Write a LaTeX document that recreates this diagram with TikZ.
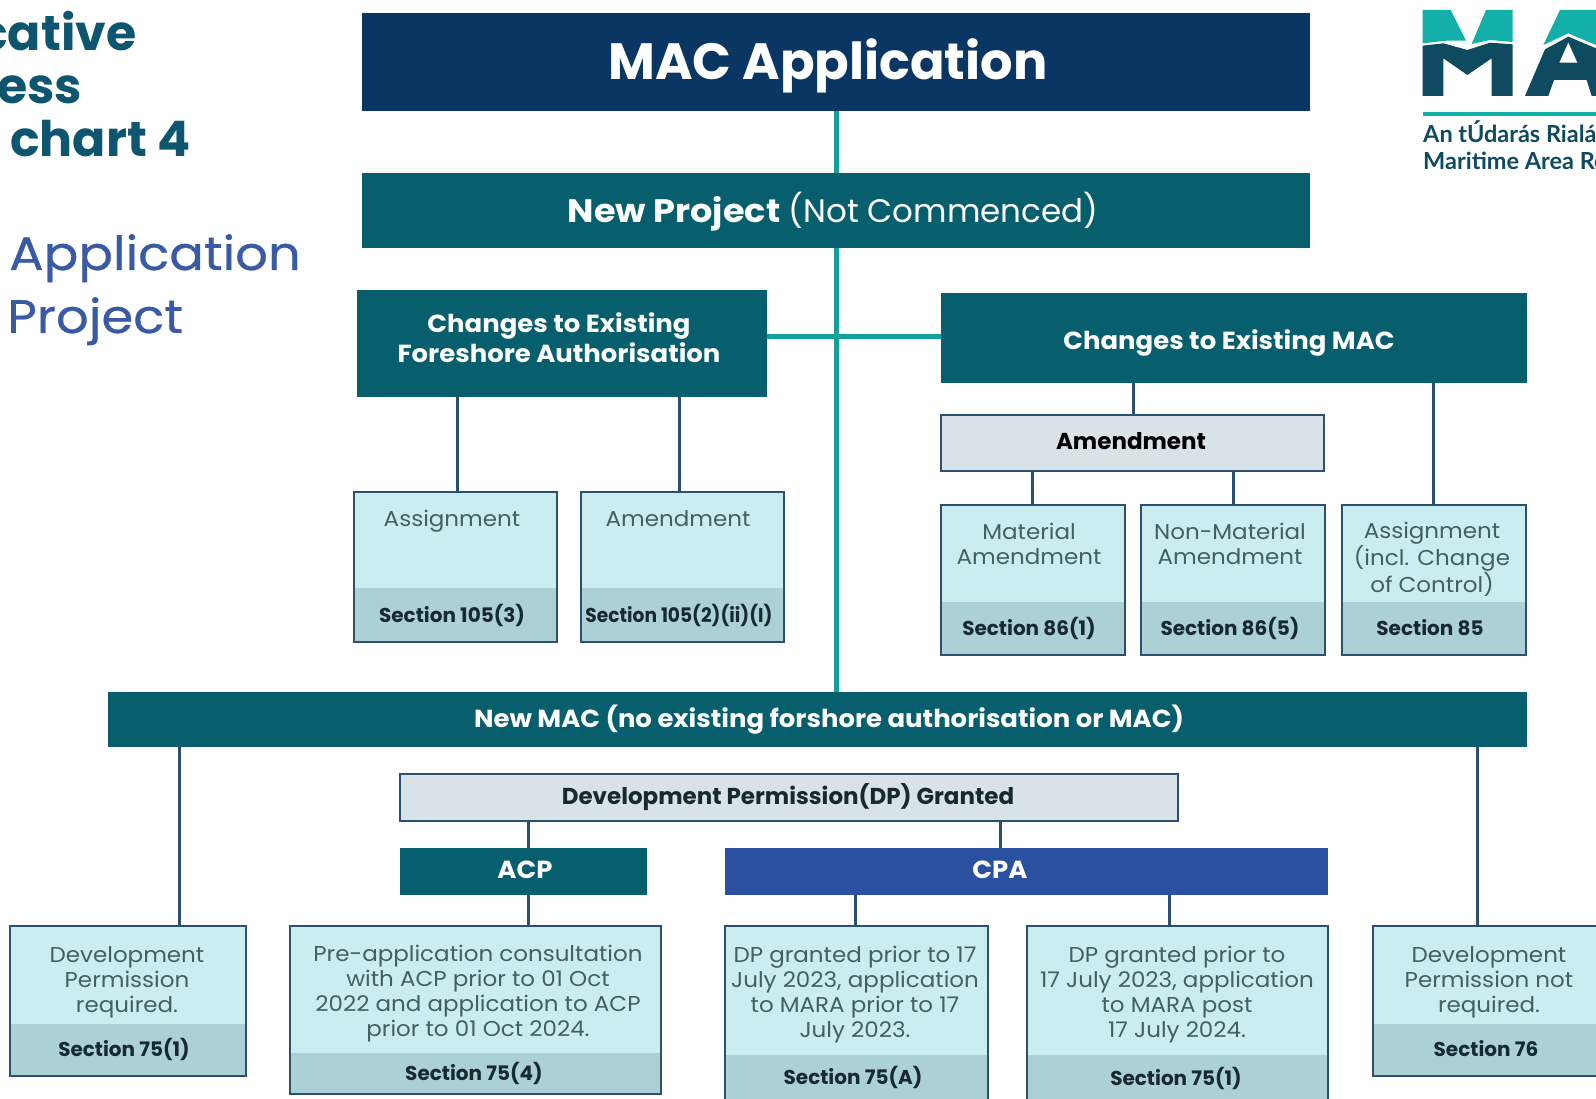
\documentclass[tikz,border=0pt]{standalone}
\usepackage{fontspec}
\setmainfont{Poppins}
\newfontfamily\logofont{Lato}
\newfontfamily\bodyf{Poppins}[FakeStretch=1.07]
\newfontfamily\headf{Poppins}[FakeStretch=1.05]
\newfontfamily\subf{Poppins}[FakeStretch=1.09,FakeBold=0.6]
\newfontfamily\tightf{Poppins}[FakeStretch=0.93]
\definecolor{navyc}{HTML}{0A3663}
\definecolor{tealc}{HTML}{075F6E}
\definecolor{bluec}{HTML}{2B50A0}
\definecolor{linkc}{HTML}{13A09C}
\definecolor{linec}{HTML}{2D4F72}
\definecolor{lightc}{HTML}{CAEEF0}
\definecolor{bandc}{HTML}{ABD0D6}
\definecolor{greyc}{HTML}{D9E2E6}
\definecolor{bodyc}{HTML}{44605F}
\definecolor{secc}{HTML}{172A30}
\definecolor{titlec}{HTML}{0E5670}
\definecolor{subc}{HTML}{3A5AA6}
\definecolor{logotop}{HTML}{12B0A8}
\definecolor{logodark}{HTML}{0E4A60}
\tikzset{
  x=1pt,y=-1pt,
  plain/.style={anchor=north west,inner sep=0pt,outer sep=0pt},
  bodytxt/.style={inner sep=0pt,align=center,text=bodyc,font=\bodyf\fontsize{21.5}{25}\selectfont},
  sectxt/.style={inner sep=0pt,align=center,text=secc,font=\fontsize{20}{24}\selectfont\bfseries},
  headtxt/.style={inner sep=0pt,align=center,text=white,font=\headf\fontsize{24.7}{30}\selectfont\bfseries},
  titletxt/.style={anchor=base west,inner sep=0pt,text=titlec,font=\fontsize{49}{52}\selectfont\bfseries},
  subtxt/.style={anchor=base west,inner sep=0pt,text=subc,font=\subf\fontsize{47}{50}\selectfont},
  logotxt/.style={anchor=base west,inner sep=0pt,text=logodark,font=\logofont\fontsize{23.5}{26}\selectfont\bfseries},
  link/.style={draw=linkc,line width=5pt},
  conn/.style={draw=linec,line width=3pt},
}
\newcommand{\blockbox}[7]{%
  \node[plain,fill=#6,minimum width=#3pt-#2pt,minimum height=#5pt-#4pt,#7] (#1) at (#2,#4) {};}
\newcommand{\secbox}[6]{%
  \node[plain,fill=lightc,minimum width=#3pt-#2pt,minimum height=#5pt-#4pt] (#1bg) at (#2,#4) {};
  \node[plain,fill=bandc,minimum width=#3pt-#2pt,minimum height=#5pt-#6pt] (#1band) at (#2,#6) {};
  \node[plain,draw=linec,line width=2.4pt,minimum width=#3pt-#2pt,minimum height=#5pt-#4pt] (#1) at (#2,#4) {};}
\begin{document}
\begin{tikzpicture}
\clip (0,0) rectangle (1596,1099);
\fill[white] (0,0) rectangle (1596,1099);

% connectors first, under the boxes
\node[plain,minimum width=948pt,minimum height=98pt] (macapp) at (362,13) {};
\node[plain,minimum width=948pt,minimum height=75pt] (newproj) at (362,173) {};
\node[plain,minimum width=410pt,minimum height=107pt] (fa) at (357,290) {};
\node[plain,minimum width=586pt,minimum height=90pt] (mac) at (941,293) {};
\node[plain,minimum width=1419pt,minimum height=55pt] (newmac) at (108,692) {};
\coordinate (trunk) at (836,337);
\draw[link] (macapp.south -| trunk) -- (newmac.north -| trunk);
\draw[link] (fa.east |- trunk) -- (mac.west |- trunk);

% dark header bars
\blockbox{macappf}{362}{1310}{13}{111}{navyc}{}
\blockbox{newprojf}{362}{1310}{173}{248}{tealc}{}
\blockbox{faf}{357}{767}{290}{397}{tealc}{}
\blockbox{macf}{941}{1527}{293}{383}{tealc}{}
\blockbox{newmacf}{108}{1527}{692}{747}{tealc}{}
\blockbox{acp}{400}{647}{848}{895}{tealc}{}
\blockbox{cpa}{725}{1328}{848}{895}{bluec}{}
\blockbox{amd}{941}{1324}{415}{471}{greyc}{draw=linec,line width=2.4pt}
\blockbox{dp}{400}{1178}{774}{821}{greyc}{draw=linec,line width=2.4pt}

% section boxes
\secbox{b1}{354}{557}{492}{642}{588}
\secbox{b2}{581}{784}{492}{642}{588}
\secbox{b3}{941}{1125}{505}{655}{602}
\secbox{b4}{1141}{1325}{505}{655}{602}
\secbox{b5}{1342}{1526}{505}{655}{602}
\secbox{b6}{10}{246}{926}{1076}{1024}
\secbox{b7}{290}{661}{926}{1094}{1053}
\secbox{b8}{725}{988}{926}{1115}{1055}
\secbox{b9}{1027}{1328}{926}{1115}{1055}
\secbox{b10}{1373}{1620}{926}{1076}{1024}

% navy connectors
\coordinate (k1) at (457,0);
\coordinate (k2) at (679,0);
\coordinate (k3) at (1133,0);
\coordinate (k4) at (1433,0);
\coordinate (k5) at (1032,0);
\coordinate (k6) at (1233,0);
\coordinate (k7) at (179,0);
\coordinate (k8) at (1477,0);
\coordinate (k9) at (528,0);
\coordinate (k10) at (1000,0);
\coordinate (k11) at (855,0);
\coordinate (k12) at (1169,0);
\draw[conn] (faf.south -| k1) -- (b1.north -| k1);
\draw[conn] (faf.south -| k2) -- (b2.north -| k2);
\draw[conn] (macf.south -| k3) -- (amd.north -| k3);
\draw[conn] (macf.south -| k4) -- (b5.north -| k4);
\draw[conn] (amd.south -| k5) -- (b3.north -| k5);
\draw[conn] (amd.south -| k6) -- (b4.north -| k6);
\draw[conn] (newmacf.south -| k7) -- (b6.north -| k7);
\draw[conn] (newmacf.south -| k8) -- (b10.north -| k8);
\draw[conn] (dp.south -| k9) -- (acp.north -| k9);
\draw[conn] (acp.south -| k9) -- (b7.north -| k9);
\draw[conn] (dp.south -| k10) -- (cpa.north -| k10);
\draw[conn] (cpa.south -| k11) -- (b8.north -| k11);
\draw[conn] (cpa.south -| k12) -- (b9.north -| k12);

% header texts
\node[inner sep=0pt,text=white,font=\fontsize{51}{56}\selectfont\bfseries] (tmac) at (828,66) {MAC Application};
\node[inner sep=0pt,text=white,font=\fontsize{32.5}{38}\selectfont] (tproj) at (833,212) {{\headf\addfontfeature{FakeStretch=1.08}\bfseries New Project} (Not Commenced)};
\node[headtxt] (tfa) at (559,338) {Changes to Existing\\Foreshore Authorisation};
\node[headtxt] (tmc) at (1229,343) {Changes to Existing MAC};
\node[headtxt,text=black,font=\fontsize{23}{28}\selectfont\bfseries] (tamd) at (1131,441) {Amendment};
\node[headtxt] (tnew) at (829,720) {New MAC (no existing forshore authorisation or MAC)};
\node[headtxt,text=secc,font=\fontsize{23}{28}\selectfont\bfseries] (tdp) at (788,797) {Development Permission(DP) Granted};
\node[headtxt] (tacp) at (525,870) {ACP};
\node[headtxt] (tcpa) at (1000,870) {CPA};

% box texts
\node[bodytxt] (t1) at (452,521) {Assignment};
\node[sectxt] (s1) at (452,615) {Section 105(3)};
\node[bodytxt] (t2) at (678,519) {Amendment};
\node[sectxt,font=\tightf\fontsize{20}{24}\selectfont\bfseries] (s2) at (679,615) {Section 105(2)(ii)(I)};
\node[bodytxt] (t3) at (1029,544) {Material\\Amendment};
\node[sectxt] (s3) at (1029,628) {Section 86(1)};
\node[bodytxt] (t4) at (1230,544) {Non-Material\\Amendment};
\node[sectxt] (s4) at (1230,628) {Section 86(5)};
\node[bodytxt] (t5) at (1432,559) {Assignment\\(incl. Change\\of Control)};
\node[sectxt] (s5) at (1430,628) {Section 85};
\node[bodytxt] (t6) at (127,982) {Development\\Permission\\required.};
\node[sectxt] (s6) at (124,1049) {Section 75(1)};
\node[bodytxt] (t7) at (478,994) {Pre-application consultation\\with ACP prior to 01 Oct\\2022 and application to ACP\\prior to 01 Oct 2024.};
\node[sectxt] (s7) at (474,1073) {Section 75(4)};
\node[bodytxt] (t8) at (855,995) {DP granted prior to 17\\July 2023, application\\to MARA prior to 17\\July 2023.};
\node[sectxt] (s8) at (853,1077) {Section 75(A)};
\node[bodytxt] (t9) at (1177,995) {DP granted prior to\\17 July 2023, application\\to MARA post\\17 July 2024.};
\node[sectxt] (s9) at (1176,1078) {Section 75(1)};
\node[bodytxt] (t10) at (1489,982) {Development\\Permission not\\required.};
\node[sectxt] (s10) at (1486,1049) {Section 76};

% page titles
\node[titletxt] (h1) at (-22,51) {cative};
\node[titletxt] (h2) at (-3,104) {ess};
\node[titletxt] (h3) at (10,157) {chart 4};
\node[subtxt] (h4) at (9,270) {Application};
\node[subtxt] (h5) at (7,333) {Project};

% logo
\begin{scope}[shift={(1380,0)},x=0.3333pt,y=-0.3333pt]
\fill[logotop] (128,30) -- (212,30) -- (258,122) -- (200,122) -- (128,130) -- cycle;
\fill[logotop] (318,30) -- (398,30) -- (398,126) -- (330,120) -- (275,132) -- cycle;
\fill[logodark] (128,137) -- (190,130) -- (262,150) -- (330,128) -- (398,133) -- (398,288) -- (335,288) -- (335,175) -- (262,225) -- (190,175) -- (190,288) -- (128,288) -- cycle;
\fill[logotop] (490,135) -- (540,30) -- (660,30) -- (660,140) -- (565,100) -- cycle;
\fill[logodark] (435,288) -- (495,148) -- (565,110) -- (660,150) -- (660,288) -- (635,288) -- (620,240) -- (522,240) -- (505,288) -- cycle;
\fill[white] (538,188) -- (565,128) -- (592,188) -- cycle;
\end{scope}
\fill[logotop] (1423,112) rectangle (1596,116);
\node[logotxt] (l1) at (1423,143) {An tÚdarás Rialá};
\node[logotxt] (l2) at (1423,170) {Maritime Area Re};
\end{tikzpicture}
\end{document}
